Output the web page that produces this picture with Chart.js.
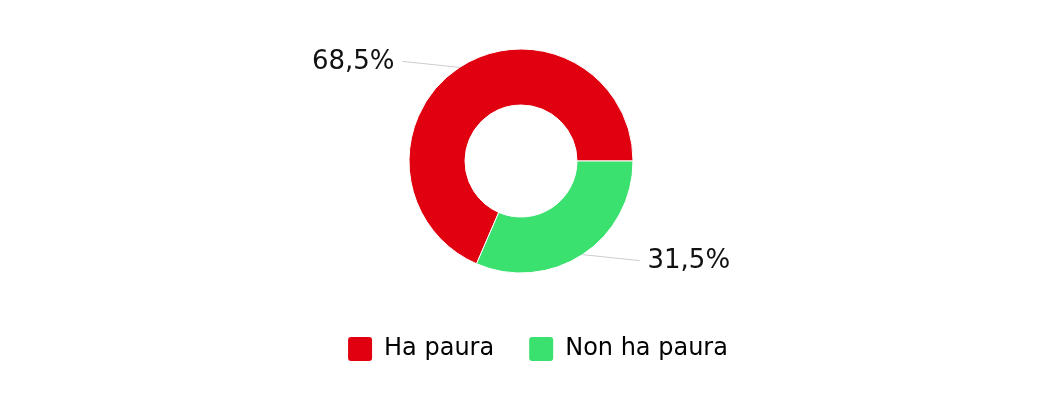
<!DOCTYPE html>
<html>
<head>
<meta charset="utf-8">
<script src="https://cdn.jsdelivr.net/npm/chart.js@4"></script>
<style>
  html, body { margin: 0; padding: 0; background: #fff; }
  #wrap { width: 1040px; height: 400px; }
</style>
</head>
<body>
<div id="wrap"><canvas id="paura"></canvas></div>
<script>
const labels = ['Ha paura', 'Non ha paura'];
const values = [68.5, 31.5];
const colors = ['#e0000f', '#3ae16e'];

// leader lines + percentage labels outside the ring
const outLabels = {
  id: 'outLabels',
  afterDatasetsDraw(chart) {
    const ctx = chart.ctx;
    const meta = chart.getDatasetMeta(0);
    ctx.save();
    meta.data.forEach((arc, i) => {
      const p = arc.getProps(['x', 'y', 'startAngle', 'endAngle', 'outerRadius'], true);
      const mid = (p.startAngle + p.endAngle) / 2;
      const sx = p.x + Math.cos(mid) * p.outerRadius;
      const sy = p.y + Math.sin(mid) * p.outerRadius;
      const dx = Math.cos(mid) >= 0 ? 1 : -1;
      const dy = Math.sin(mid) >= 0 ? 1 : -1;
      const ex = sx + dx * 57;
      const ey = sy + dy * 6;
      ctx.strokeStyle = '#cccccc';
      ctx.lineWidth = 1;
      ctx.beginPath();
      ctx.moveTo(sx, sy);
      ctx.lineTo(ex, ey);
      ctx.stroke();
      ctx.fillStyle = '#111';
      ctx.font = '26px "DejaVu Sans"';
      ctx.textBaseline = 'middle';
      ctx.textAlign = dx > 0 ? 'left' : 'right';
      const txt = String(values[i]).replace('.', ',') + '%';
      ctx.fillText(txt, ex + dx * 8, ey + 1);
    });
    ctx.restore();
  }
};

// legend sits a bit right of the ring's centre
const legendShift = {
  id: 'legendShift',
  afterLayout(chart) {
    chart.legend.left += 17;
    chart.legend.right += 17;
  }
};

new Chart(document.getElementById('paura'), {
  type: 'doughnut',
  data: {
    labels: labels,
    datasets: [{
      data: values,
      backgroundColor: colors,
      borderColor: '#ffffff',
      borderWidth: 1,
      radius: 112,
      cutout: '50%'
    }]
  },
  options: {
    responsive: true,
    maintainAspectRatio: false,
    animation: false,
    rotation: 203.4,
    layout: { padding: { top: 20, left: 2, bottom: 29 } },
    plugins: {
      tooltip: { enabled: false },
      legend: {
        position: 'bottom',
        labels: {
          boxWidth: 24,
          boxHeight: 24,
          padding: 35,
          color: '#111',
          font: { family: 'DejaVu Sans', size: 24 },
          generateLabels(chart) {
            return labels.map((l, i) => ({
              text: l,
              fillStyle: colors[i],
              strokeStyle: colors[i],
              lineWidth: 0,
              borderRadius: 3,
              index: i
            }));
          }
        }
      }
    }
  },
  plugins: [outLabels, legendShift]
});
</script>
</body>
</html>
